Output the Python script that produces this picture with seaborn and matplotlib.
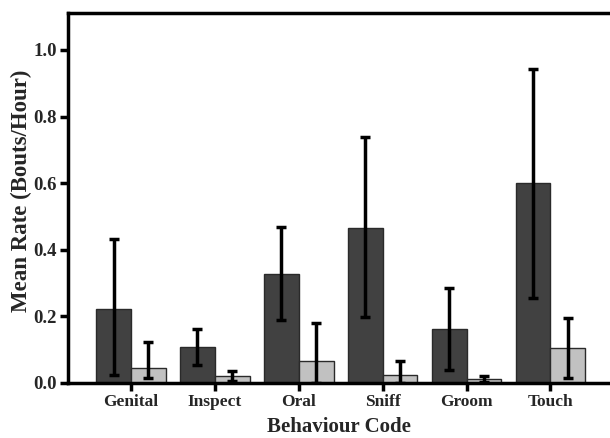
import numpy as np
import pandas as pd
import matplotlib
matplotlib.use("Agg")
import matplotlib.pyplot as plt
import seaborn as sns

categories = ["Genital", "Inspect", "Oral", "Sniff", "Groom", "Touch"]
groups = ["A", "B"]
dark_values = [0.222, 0.108, 0.327, 0.465, 0.163, 0.600]
dark_upper = [0.431, 0.161, 0.467, 0.740, 0.285, 0.943]
dark_lower = [0.025, 0.054, 0.189, 0.199, 0.040, 0.254]
light_values = [0.046, 0.022, 0.067, 0.025, 0.011, 0.104]
light_upper = [0.124, 0.035, 0.181, 0.067, 0.021, 0.196]
light_lower = [0.016, 0.005, 0.000, 0.000, 0.002, 0.016]
y_ticks = [0.0, 0.2, 0.4, 0.6, 0.8, 1.0]

sns.set_theme(style="white")
plt.rcParams["font.family"] = ["Liberation Serif", "DejaVu Serif"]
plt.rcParams["font.weight"] = "bold"

df = pd.DataFrame({
    "Behaviour": categories * 2,
    "Group": [groups[0]] * len(categories) + [groups[1]] * len(categories),
    "Rate": dark_values + light_values,
})

fig = plt.figure(figsize=(6.1, 4.38), dpi=100)
ax = fig.add_axes([0.1115, 0.1256, 0.8885, 0.8447])

sns.barplot(data=df, x="Behaviour", y="Rate", hue="Group", order=categories,
            hue_order=groups, palette=["#414141", "#c1c1c1"], width=0.83,
            edgecolor="#2a2a2a", linewidth=1.0, errorbar=None, legend=False, ax=ax)

bars = list(ax.patches)[:2 * len(categories)]
vals = dark_values + light_values
ups = dark_upper + light_upper
lows = dark_lower + light_lower
for p, v, u, l in zip(bars, vals, ups, lows):
    xc = p.get_x() + p.get_width() / 2
    ax.errorbar([xc], [v], yerr=[[v - l], [u - v]], fmt="none", ecolor="black",
                elinewidth=2.5, capsize=3.5, capthick=2.5, zorder=5)

ax.set_ylim(0, 1.111)
ax.set_xlim(-0.75, 5.71)
ax.set_yticks(y_ticks)
ax.set_yticklabels([f"{t:.1f}" for t in y_ticks], fontsize=13.5, fontweight="bold")
ax.set_xticks(range(len(categories)))
ax.set_xticklabels(categories, fontsize=12.5, fontweight="bold")
ax.set_xlabel("Behaviour Code", fontsize=15, fontweight="bold", labelpad=5)
ax.set_ylabel("Mean Rate (Bouts/Hour)", fontsize=16.5, fontweight="bold")
ax.yaxis.set_label_coords(-0.066, 0.519)

for s in ["left", "bottom", "top"]:
    ax.spines[s].set_linewidth(2.5)
    ax.spines[s].set_color("black")
ax.spines["right"].set_visible(False)
ax.tick_params(axis="both", which="major", direction="out", length=6, width=2.5,
               color="black", bottom=True, left=True, pad=2)

fig.savefig("out.png", dpi=100)
